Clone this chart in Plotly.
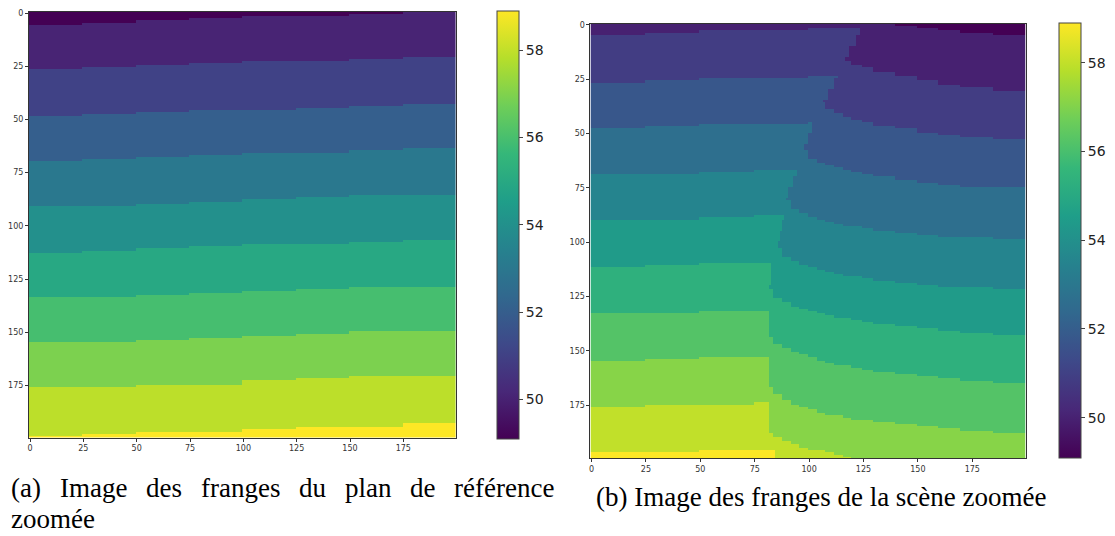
import numpy as np
import plotly.graph_objects as go

N = 200
TICKS = [0, 25, 50, 75, 100, 125, 150, 175]
CBAR_TICKS = [50, 52, 54, 56, 58]
ZMIN, ZMAX = 49.1, 58.9

# ---------------- (a) reference plane ----------------
LEVELS_A = [49.1, 50.08, 51.06, 52.04, 53.02, 54.0, 54.98, 55.96, 56.94, 57.92, 58.9]
COLS_A = [0, 25, 50, 75, 100, 125, 150, 175, 200]
# row where each fringe ends, one value per column block of COLS_A
EDGES_A = [
    [5.5, 4.7, 3.6, 2.5, 1.6, 1.2, 0.6, 0.0],
    [26.2, 25.3, 24.6, 23.8, 23.0, 22.5, 21.6, 20.5],
    [48.4, 47.8, 47.0, 46.0, 45.2, 44.2, 43.2, 42.2],
    [69.6, 68.5, 67.6, 66.6, 66.0, 65.3, 64.5, 63.8],
    [91.0, 90.3, 89.5, 88.6, 87.8, 87.0, 86.0, 85.2],
    [112.5, 111.8, 111.0, 110.0, 109.0, 108.2, 107.3, 106.4],
    [134.0, 133.3, 132.4, 131.5, 130.6, 129.8, 129.0, 128.2],
    [155.0, 154.3, 153.5, 152.8, 152.0, 151.0, 150.0, 149.3],
    [176.0, 175.5, 175.0, 174.2, 173.0, 172.0, 171.0, 170.3],
    [198.3, 197.3, 196.6, 196.2, 195.6, 195.0, 194.2, 193.0],
]

# ---------------- (b) scene ----------------
LEVELS_B = [49.1, 49.99, 50.88, 51.77, 52.66, 53.55, 54.44, 55.33, 56.22, 57.11, 58.0, 58.89]

# undisturbed part (left of the object edge), fringes 1..11
COLS_B_LEFT = [0, 25, 50, 75, 100, 150]
EDGES_B_LEFT = [
    [4.3, 3.7, 3.0, 2.3, 1.6],
    [26.3, 25.6, 25.0, 24.4, 24.0],
    [47.8, 47.0, 46.0, 45.2, 44.8],
    [69.0, 68.4, 67.7, 66.9, 66.5],
    [90.0, 89.4, 88.8, 88.0, 87.6],
    [111.2, 110.6, 110.0, 109.4, 109.0],
    [132.8, 132.2, 131.6, 131.2, 131.0],
    [154.2, 153.6, 153.0, 152.6, 152.4],
    [175.3, 174.8, 174.2, 173.8, 173.6],
    [197.0, 196.4, 196.0, 195.7, 195.5],
]

# shifted part (right of the object edge), fringes 0..10; None = above the edge
COLS_B_RIGHT = [80, 84, 88, 92, 96, 100, 104, 108, 112, 116, 120, 125, 130, 140, 150, 160, 170, 185, 200]
EDGES_B_RIGHT = [
    [None, None, None, None, None, None, None, None, None, None, None, None, None, 0.5, 1.3, 2.5, 3.6, 4.8],
    [None, None, None, None, None, None, None, None, None, 17.0, 18.5, 20.0, 22.0, 24.0, 25.8, 27.2, 28.8, 30.2],
    [None, None, None, None, None, None, 36.0, 38.5, 41.0, 42.5, 44.0, 45.0, 46.5, 48.0, 49.3, 50.3, 51.5, 52.7],
    [None, None, None, None, 58.0, 61.5, 63.3, 64.6, 65.7, 66.5, 67.5, 68.5, 70.0, 71.3, 72.5, 73.4, 74.3, 75.0],
    [None, None, 81.0, 84.5, 87.0, 88.6, 89.8, 90.8, 91.6, 92.3, 93.0, 93.8, 94.8, 95.8, 96.6, 97.3, 98.0, 98.7],
    [None, 103.0, 106.5, 109.0, 110.8, 112.0, 113.0, 113.9, 114.7, 115.4, 116.0, 116.8, 117.8, 118.8, 119.6, 120.3, 121.0, 121.5],
    [122.0, 126.0, 128.0, 129.5, 130.7, 131.7, 132.6, 133.4, 134.1, 134.8, 135.5, 136.3, 137.5, 138.8, 139.8, 140.6, 141.4, 142.3],
    [144.0, 146.5, 148.5, 150.3, 151.8, 153.0, 154.4, 155.5, 156.3, 157.0, 157.6, 158.3, 159.3, 160.5, 161.6, 162.6, 163.6, 164.8],
    [167.0, 170.0, 172.5, 174.5, 175.8, 177.0, 178.2, 179.2, 180.0, 180.6, 181.2, 181.8, 182.6, 183.6, 184.6, 185.4, 186.3, 187.4],
    [188.0, 190.0, 191.8, 193.0, 194.2, 195.2, 196.0, 196.8, 197.7, 198.6, 999, 999, 999, 999, 999, 999, 999, 999],
]

# first column of the shifted part, one value per block of 5 rows
EDGE_COL_STEP = 5
EDGE_COL = [124, 122, 119, 117, 114, 112, 109, 107, 105, 102,
            100, 98, 96, 94.5, 93, 91, 90, 89, 88, 87,
            86, 84, 83, 82.5, 82, 82, 82, 82, 82, 82,
            82, 82, 82, 82, 82, 82, 82, 82, 83, 85]


def fringe_field(col_edges, edges, levels, first):
    z = np.full((N, N), np.nan)
    rows = np.arange(N)[:, None]
    lev = np.array(levels)
    for b in range(len(col_edges) - 1):
        c0, c1 = col_edges[b], col_edges[b + 1]
        bounds = np.array([-1.0 if e[b] is None else e[b] for e in edges])
        idx = (rows >= bounds[None, :]).sum(axis=1)
        z[:, c0:c1] = lev[first + idx][:, None]
    return z


z_a = fringe_field(COLS_A, EDGES_A, LEVELS_A, 0)

left_b = fringe_field(COLS_B_LEFT, EDGES_B_LEFT, LEVELS_B, 1)
right_b = fringe_field(COLS_B_RIGHT, EDGES_B_RIGHT, LEVELS_B, 0)
edge = np.repeat(np.array(EDGE_COL, dtype=float), EDGE_COL_STEP)[:, None]
cols = np.arange(N)[None, :]
z_b = np.where(cols >= edge, right_b, left_b)

idx = np.arange(N)

W, H = 1115, 536


def px_x(p):
    return p / W


def px_y(p):
    return 1 - p / H


axis_style = dict(
    showline=True, linecolor="#333", linewidth=1, mirror=True,
    ticks="outside", ticklen=3, tickwidth=1, tickcolor="#333",
    tickvals=TICKS, tickfont=dict(family="DejaVu Sans", size=8, color="#333"),
    showgrid=False, zeroline=False, fixedrange=True,
)

fig = go.Figure()
fig.add_trace(go.Heatmap(z=z_a, x=idx, y=idx, coloraxis="coloraxis",
                         xaxis="x", yaxis="y", hoverinfo="skip"))
fig.add_trace(go.Heatmap(z=z_b, x=idx, y=idx, coloraxis="coloraxis2",
                         xaxis="x2", yaxis="y2", hoverinfo="skip"))

cbar_common = dict(
    thicknessmode="pixels", thickness=22, lenmode="pixels",
    xanchor="left", yanchor="middle", xpad=0, ypad=0,
    outlinewidth=1, outlinecolor="#444",
    tickvals=CBAR_TICKS, ticks="outside", ticklen=4, tickwidth=1, tickcolor="#444",
    tickfont=dict(family="DejaVu Sans", size=14, color="#222"),
)

fig.update_layout(
    width=W, height=H, autosize=False,
    margin=dict(l=0, r=0, t=0, b=0),
    paper_bgcolor="white", plot_bgcolor="white",
    showlegend=False,
    xaxis=dict(domain=[px_x(28), px_x(455)], range=[-0.5, N - 0.5], anchor="y", **axis_style),
    yaxis=dict(domain=[px_y(437), px_y(9)], range=[N - 0.5, -0.5], anchor="x", **axis_style),
    xaxis2=dict(domain=[px_x(590), px_x(1025.5)], range=[-0.5, N - 0.5], anchor="y2", **axis_style),
    yaxis2=dict(domain=[px_y(458), px_y(21)], range=[N - 0.5, -0.5], anchor="x2", **axis_style),
    coloraxis=dict(colorscale="Viridis", cmin=ZMIN, cmax=ZMAX,
                   colorbar=dict(x=px_x(496), y=px_y(223), len=428, **cbar_common)),
    coloraxis2=dict(colorscale="Viridis", cmin=ZMIN, cmax=ZMAX,
                    colorbar=dict(x=px_x(1059), y=px_y(238.5), len=435, **cbar_common)),
)

# captions (Times-like serif); the first line of (a) is justified word by word
CAP_FONT = dict(family="Liberation Serif", size=27, color="black")
CAP_A_WORDS = ["(a)", "Image", "des", "franges", "du", "plan", "de", "référence"]
CAP_A_X = [8, 56.8, 143.1, 197.9, 296.2, 342, 407.3, 451.6]
annotations = []
for w, xp in zip(CAP_A_WORDS, CAP_A_X):
    annotations.append(dict(text=w, x=px_x(xp), y=px_y(488), xref="paper", yref="paper",
                            xanchor="left", yanchor="middle", showarrow=False, font=CAP_FONT))
annotations.append(dict(text="zoomée", x=px_x(8), y=px_y(519), xref="paper", yref="paper",
                        xanchor="left", yanchor="middle", showarrow=False, font=CAP_FONT))
annotations.append(dict(text="(b) Image des franges de la scène zoomée", x=px_x(821.5), y=px_y(497),
                        xref="paper", yref="paper", xanchor="center", yanchor="middle",
                        showarrow=False, font=CAP_FONT))
fig.update_layout(annotations=annotations)

fig.write_html("out.html", config={"displayModeBar": False})
